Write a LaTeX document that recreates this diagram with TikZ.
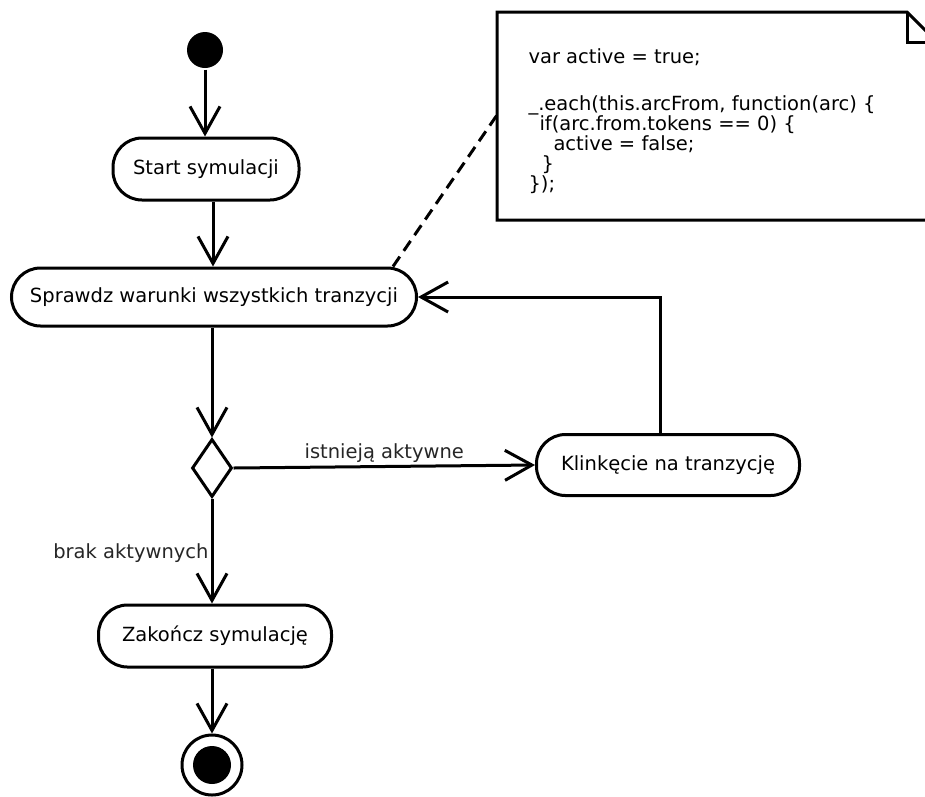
\documentclass[tikz,border=0pt]{standalone}
\usepackage{fontspec}
\setmainfont{DejaVu Sans}
\usetikzlibrary{arrows.meta,shapes.geometric,calc}
\begin{document}
\begin{tikzpicture}[x=1pt,y=-1pt,line width=3pt,
  >={Straight Barb[length=27pt,width=30pt]},
  txt/.style={font=\fontsize{19.5}{22}\selectfont},
  act/.style={txt,draw,fill=white,rounded corners=29pt,minimum height=60pt,inner sep=0pt},
  lbl/.style={txt,inner sep=2pt,text=black!85},
  notebox/.style={draw,fill=white,line join=miter}]
\useasboundingbox (0,0) rectangle (925,796);
\clip (0,0) rectangle (925,796);
% note
\draw[notebox] (497,12) -- (907,12) -- (937,42) -- (937,220) -- (497,220) -- cycle;
\draw[line join=miter] (907,12) -- (907,42) -- (937,42);
\coordinate (nl) at (497,115);
\node[txt,anchor=north west,inner sep=0pt,align=left,font=\fontsize{19.5}{20}\selectfont] (nt) at (527,47)
  {var active = true;\\[27pt]
   \_.each(this.arcFrom, function(arc) \{\\
   \hspace*{11pt}if(arc.from.tokens == 0) \{\\
   \hspace*{25pt}active = false;\\
   \hspace*{13pt}\}\\
   \});};
% nodes
\node[circle,fill=black,minimum size=36pt,inner sep=0pt] (init) at (205,50) {};
\node[act,minimum width=186pt,minimum height=62pt] (s1) at (206,169) {Start symulacji};
\node[act,minimum width=405pt,minimum height=58pt] (s2) at (214,297) {Sprawdz warunki wszystkich tranzycji};
\node[diamond,draw,fill=white,minimum width=40pt,minimum height=58pt,inner sep=0pt] (d) at (212,468) {};
\node[act,minimum width=263pt,minimum height=61pt] (k) at (668,465) {Klinkęcie na tranzycję};
\node[act,minimum width=233pt,minimum height=62pt] (z) at (215,636) {Zakończ symulację};
\node[circle,draw,fill=white,minimum size=60pt,inner sep=0pt] (end) at (212,765) {};
\fill[black] (end.center) circle[radius=19pt];
% connectors
\draw[->] (init) -- (init |- s1.north);
\coordinate (a1) at ($(s1.south)+(7,0)$);
\draw[->] (a1) -- (a1 |- s2.north);
\draw[->] (s2.south -| d) -- (d.north);
\draw[->] (d.east) -- node[lbl,above,pos=0.5] {istnieją aktywne} (k.west);
\coordinate (kt) at ($(k.north)+(-8,0)$);
\draw[->] (kt) |- (s2.east);
\draw[->] (d.south) -- node[lbl,left,pos=0.52] {brak aktywnych} (d.south |- z.north);
\draw[->] (z.south -| d) -- (end.north);
\draw[dashed,dash pattern=on 12pt off 7pt] ([xshift=179pt]s2.north) -- (nl);
\end{tikzpicture}
\end{document}
